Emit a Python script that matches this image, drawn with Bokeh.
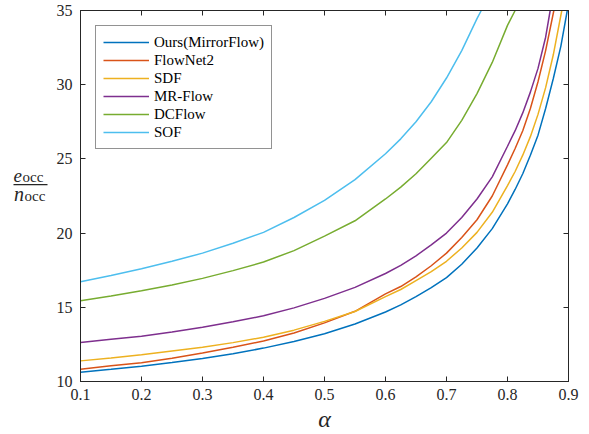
from bokeh.plotting import figure
from bokeh.layouts import row
from bokeh.models import Range1d, FixedTicker, LinearAxis
from bokeh.core.properties import value
from bokeh.embed import file_html
from bokeh.resources import INLINE

# ---- data ----
names = ["Ours(MirrorFlow)", "FlowNet2", "SDF", "MR-Flow", "DCFlow", "SOF"]
colors = ["#0072BD", "#D95319", "#EDB120", "#7E2F8E", "#77AC30", "#4DBEEE"]

grid = [0.1, 0.15, 0.2, 0.25, 0.3, 0.35, 0.4, 0.45, 0.5, 0.55, 0.6, 0.625, 0.65, 0.675,
        0.7, 0.725, 0.75, 0.775, 0.8, 0.8125, 0.825, 0.8375, 0.85, 0.8625, 0.875, 0.8875]

alpha_ours = grid + [0.898]
ours = [10.63, 10.82, 11.03, 11.28, 11.55, 11.87, 12.25, 12.69, 13.22, 13.87, 14.68, 15.16,
        15.72, 16.33, 17.0, 17.9, 19.0, 20.3, 21.97, 22.94, 24.0, 25.25, 26.6, 28.4, 30.4,
        32.6, 35.0]

alpha_flownet2 = grid[:24] + [0.876]
flownet2 = [10.83, 11.06, 11.27, 11.57, 11.92, 12.31, 12.73, 13.27, 13.95, 14.73, 15.9, 16.4,
            17.05, 17.8, 18.65, 19.7, 20.9, 22.5, 24.6, 25.7, 26.9, 28.4, 30.2, 32.3, 35.0]

alpha_sdf = grid[:25] + [0.889]
sdf = [11.39, 11.59, 11.8, 12.06, 12.31, 12.62, 12.98, 13.46, 14.05, 14.72, 15.72, 16.2,
       16.8, 17.4, 18.1, 19.0, 20.05, 21.4, 23.2, 24.15, 25.25, 26.5, 28.0, 29.8, 32.0, 35.0]

alpha_mrflow = grid[:24] + [0.87]
mrflow = [12.62, 12.84, 13.05, 13.33, 13.66, 14.02, 14.43, 14.96, 15.6, 16.34, 17.28, 17.83,
          18.47, 19.21, 20.0, 21.05, 22.3, 23.79, 25.85, 26.9, 28.1, 29.5, 31.1, 33.2, 35.0]

alpha_dcflow = grid[:19] + [0.8125]
dcflow = [15.44, 15.76, 16.12, 16.5, 16.95, 17.47, 18.05, 18.82, 19.8, 20.83, 22.3, 23.1,
          24.0, 25.05, 26.1, 27.6, 29.4, 31.5, 34.0, 35.0]

alpha_sof = grid[:17] + [0.757]
sof = [16.72, 17.14, 17.6, 18.1, 18.65, 19.32, 20.05, 21.05, 22.2, 23.6, 25.35, 26.35,
       27.5, 28.85, 30.45, 32.3, 34.45, 35.0]

x_ticks = [0.1, 0.2, 0.3, 0.4, 0.5, 0.6, 0.7, 0.8, 0.9]
y_ticks = [10, 15, 20, 25, 30, 35]

x_title = "α"
ylab_texts = ["e", "occ", "n", "occ"]

series_x = [alpha_ours, alpha_flownet2, alpha_sdf, alpha_mrflow, alpha_dcflow, alpha_sof]
series_y = [ours, flownet2, sdf, mrflow, dcflow, sof]

AX = "#262626"
SERIF = "Liberation Serif"
TOP, BOTTOM = 10, 52  # frame borders shared by both panels

# ---- main plot ----
p = figure(width=537, height=434, output_backend="svg", toolbar_location=None,
           x_range=Range1d(0.1, 0.9), y_range=Range1d(10, 35),
           min_border_left=28, min_border_right=21, min_border_top=TOP, min_border_bottom=BOTTOM,
           background_fill_color="white", border_fill_color="white")
p.grid.visible = False
p.outline_line_color = AX
p.outline_line_width = 1

for xs, ys, c, n in zip(series_x, series_y, colors, names):
    p.line(xs, ys, line_color=c, line_width=1.5, legend_label=n)

def style_axis(ax, ticks, show_labels=True):
    ax.ticker = FixedTicker(ticks=ticks)
    ax.axis_line_color = AX
    ax.major_tick_line_color = AX
    ax.major_tick_in = 5
    ax.major_tick_out = 0
    ax.minor_tick_line_color = None
    ax.major_label_text_font = SERIF
    ax.major_label_text_font_size = "16px" if show_labels else "0px"
    ax.major_label_text_color = AX if show_labels else None

style_axis(p.xaxis[0], x_ticks)
style_axis(p.yaxis[0], y_ticks)
p.xaxis[0].major_label_standoff = 7
p.yaxis[0].major_label_standoff = 8
p.xaxis[0].axis_label = x_title
p.xaxis[0].axis_label_text_font = SERIF
p.xaxis[0].axis_label_text_font_style = "italic"
p.xaxis[0].axis_label_text_font_size = "24px"
p.xaxis[0].axis_label_text_color = AX
p.xaxis[0].axis_label_standoff = 3

top_ax = LinearAxis()
style_axis(top_ax, x_ticks, show_labels=False)
top_ax.major_label_standoff = 0
p.add_layout(top_ax, "above")
right_ax = LinearAxis()
style_axis(right_ax, y_ticks, show_labels=False)
right_ax.major_label_standoff = 0
p.add_layout(right_ax, "right")

lg = p.legend[0]
lg.location = "top_left"
lg.margin = 15
lg.padding = 7
lg.spacing = 0
lg.glyph_width = 46
lg.glyph_height = 18
lg.label_height = 18
lg.label_standoff = 5
lg.label_text_font = SERIF
lg.label_text_font_size = "15px"
lg.label_text_color = "black"
lg.border_line_color = AX
lg.border_line_width = 1
lg.background_fill_color = "white"
lg.background_fill_alpha = 1

# ---- y-axis title (fraction) in a narrow side panel; y in page pixels ----
q = figure(width=52, height=434, output_backend="svg", toolbar_location=None,
           x_range=Range1d(0, 52), y_range=Range1d(434 - BOTTOM, TOP),
           x_axis_type=None, y_axis_type=None,
           min_border_left=0, min_border_right=0, min_border_top=TOP, min_border_bottom=BOTTOM,
           background_fill_color="white", border_fill_color="white")
q.grid.visible = False
q.outline_line_color = None

q.text(x=[13], y=[175], text=[ylab_texts[0]], text_font=value(SERIF), text_font_style="italic",
       text_font_size="19px", text_align="left", text_baseline="alphabetic", text_color=AX)
q.text(x=[22], y=[177], text=[ylab_texts[1]], text_font=value(SERIF),
       text_font_size="15px", text_align="left", text_baseline="alphabetic", text_color=AX)
q.text(x=[13.5], y=[194], text=[ylab_texts[2]], text_font=value(SERIF), text_font_style="italic",
       text_font_size="20px", text_align="left", text_baseline="alphabetic", text_color=AX)
q.text(x=[24], y=[195.5], text=[ylab_texts[3]], text_font=value(SERIF),
       text_font_size="15px", text_align="left", text_baseline="alphabetic", text_color=AX)
q.segment(x0=[13], y0=[184.5], x1=[47], y1=[184.5], line_color=AX, line_width=1.2)

layout = row(q, p)
open("out.html", "w").write(file_html(layout, INLINE))
